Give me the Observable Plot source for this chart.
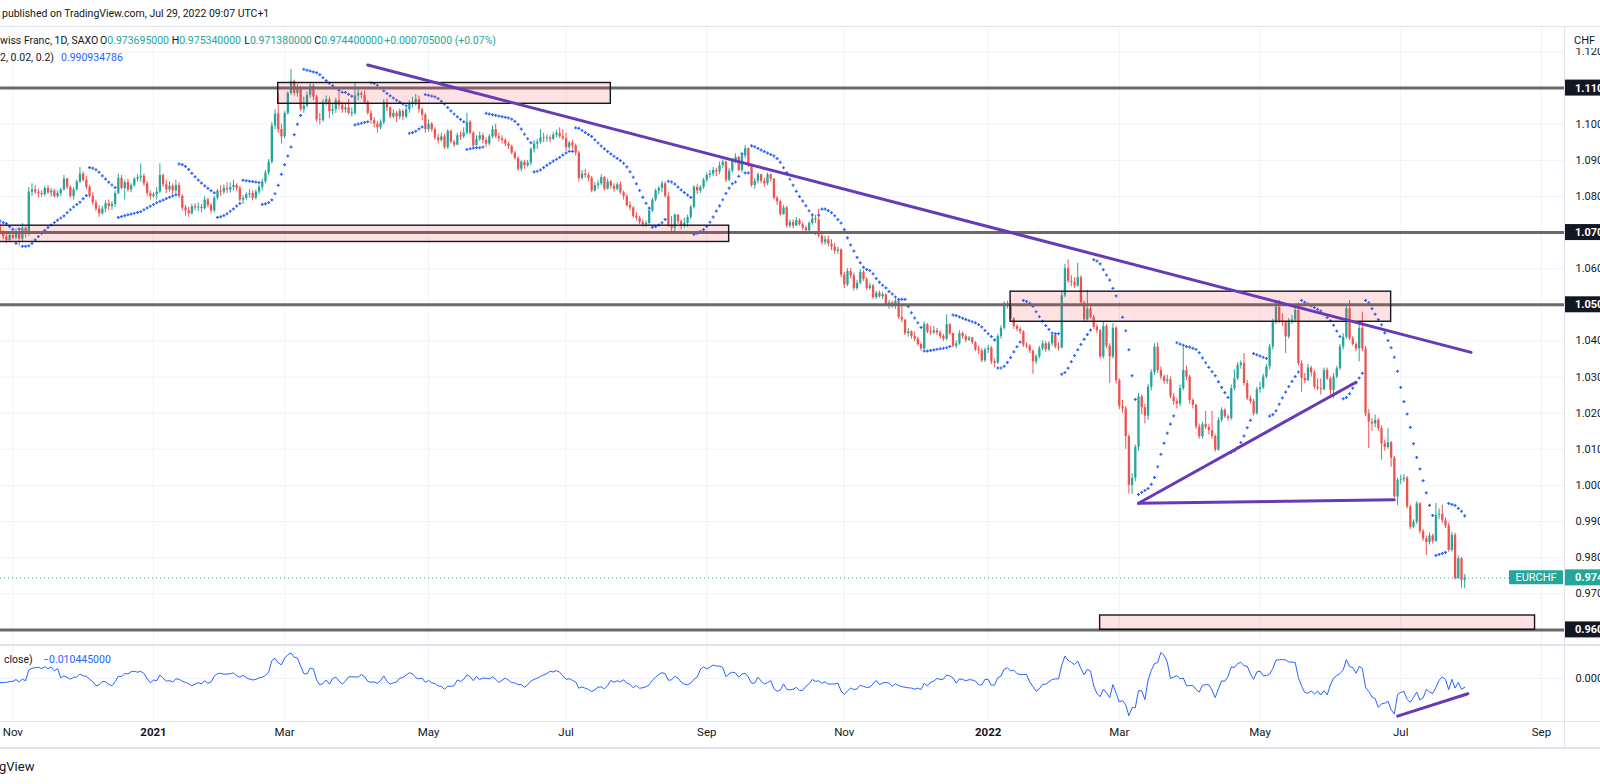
<!DOCTYPE html>
<html><head><meta charset="utf-8">
<script src="https://cdn.jsdelivr.net/npm/d3@7"></script>
<script src="https://cdn.jsdelivr.net/npm/@observablehq/plot@0.6"></script>
<style>
html,body{margin:0;padding:0;background:#fff;}
#root{position:relative;width:1600px;height:784px;overflow:hidden;font-family:Roboto,"Liberation Sans",sans-serif;color:#131722;background:#fff;}
.abs{position:absolute;white-space:nowrap;line-height:1;}
.g{color:#26a69a}.b{color:#2962ff}
</style></head><body><div id="root"></div>
<script>
// ---------- DATA (EUR/CHF daily, SAXO) ----------
const firstDate = "2020-10-13";       // first bar (weekdays follow)
const close = [
// Oct 13-30 2020
1.0745,1.0735,1.0722,1.0728,1.0718,1.0712,1.0722,1.0718,1.0722,1.0715,1.0700,1.0688,1.0678,1.0692,
// Nov 2020
1.0685,1.0700,1.0682,1.0712,1.0695,1.0812,1.0818,1.0812,1.0808,1.0805,1.0822,1.0810,1.0815,1.0800,1.0808,1.0818,1.0848,1.0825,1.0800,1.0818,1.0840,
// Dec 2020
1.0862,1.0845,1.0825,1.0800,1.0782,1.0765,1.0752,1.0765,1.0780,1.0772,1.0778,1.0808,1.0850,1.0822,1.0838,1.0818,1.0830,1.0848,1.0852,1.0856,1.0835,1.0808,1.0800,
// Jan 2021
1.0805,1.0812,1.0858,1.0832,1.0818,1.0828,1.0815,1.0830,1.0800,1.0768,1.0760,1.0752,1.0772,1.0768,1.0770,1.0766,1.0790,1.0775,1.0760,1.0795,1.0815,
// Feb 2021
1.0812,1.0822,1.0818,1.0825,1.0830,1.0822,1.0790,1.0795,1.0805,1.0808,1.0795,1.0812,1.0825,1.0840,1.0865,1.0895,1.0995,1.1028,1.0985,1.0965,
// Mar 2021
1.1030,1.1085,1.1118,1.1085,1.1100,1.1040,1.1050,1.1080,1.1105,1.1075,1.1012,1.1010,1.1060,1.1068,1.1035,1.1040,1.1065,1.1052,1.1040,1.1045,1.1030,1.1030,1.1078,
// Apr 2021
1.1085,1.1080,1.1060,1.1030,1.1010,1.1000,1.0990,1.1005,1.1060,1.1045,1.1020,1.1030,1.1020,1.1035,1.1020,1.1040,1.1055,1.1060,1.1068,1.1040,1.1025,1.0985,
// May 2021
1.1000,1.0985,1.0962,1.0955,1.0965,1.0935,1.0980,1.0950,1.0942,1.0968,1.0965,1.0975,1.1005,1.0975,1.0940,1.0958,1.0968,1.0955,1.0945,1.0965,1.0985,
// Jun 2021
1.0965,1.0960,1.0955,1.0945,1.0938,1.0920,1.0905,1.0875,1.0895,1.0885,1.0892,1.0930,1.0945,1.0950,1.0962,1.0960,1.0962,1.0958,1.0970,1.0975,1.0965,1.0960,
// Jul 2021
1.0935,1.0948,1.0940,1.0920,1.0850,1.0862,1.0858,1.0850,1.0815,1.0830,1.0835,1.0852,1.0820,1.0840,1.0828,1.0820,1.0832,1.0810,1.0800,1.0775,1.0768,1.0745,
// Aug 2021
1.0740,1.0728,1.0722,1.0725,1.0760,1.0790,1.0815,1.0822,1.0835,1.0800,1.0720,1.0712,1.0748,1.0730,1.0718,1.0725,1.0742,1.0770,1.0825,1.0815,1.0825,1.0845,
// Sep 2021
1.0858,1.0862,1.0872,1.0868,1.0885,1.0895,1.0845,1.0870,1.0898,1.0908,1.0872,1.0912,1.0932,1.0885,1.0830,1.0842,1.0860,1.0842,1.0835,1.0860,1.0848,1.0795,
// Oct 2021
1.0785,1.0750,1.0768,1.0718,1.0728,1.0718,1.0733,1.0722,1.0712,1.0705,1.0725,1.0738,1.0735,1.0690,1.0672,1.0680,1.0668,1.0660,1.0648,1.0652,1.0582,
// Nov 2021
1.0555,1.0592,1.0580,1.0545,1.0560,1.0590,1.0570,1.0545,1.0552,1.0520,1.0532,1.0522,1.0528,1.0500,1.0505,1.0500,1.0510,1.0465,1.0458,1.0420,1.0425,1.0412,
// Dec 2021
1.0405,1.0390,1.0378,1.0445,1.0425,1.0422,1.0428,1.0422,1.0412,1.0405,1.0445,1.0420,1.0385,1.0392,1.0420,1.0412,1.0402,1.0408,1.0395,1.0375,1.0372,1.0345,1.0375,
// Jan 2022
1.0380,1.0342,1.0338,1.0412,1.0435,1.0502,1.0498,1.0460,1.0440,1.0432,1.0425,1.0388,1.0385,1.0372,1.0342,1.0356,1.0378,1.0392,1.0375,1.0392,1.0415,
// Feb 2022
1.0383,1.0380,1.0525,1.0600,1.0565,1.0562,1.0552,1.0575,1.0505,1.0458,1.0488,1.0465,1.0438,1.0428,1.0356,1.0440,1.0385,1.0356,1.0435,1.0290,
// Mar 2022
1.0218,1.0212,1.0135,1.0000,1.0020,1.0105,1.0245,1.0215,1.0192,1.0272,1.0312,1.0383,1.0318,1.0300,1.0288,1.0292,1.0245,1.0232,1.0225,1.0268,1.0318,1.0300,1.0235,
// Apr 2022
1.0222,1.0162,1.0135,1.0168,1.0160,1.0152,1.0135,1.0098,1.0180,1.0208,1.0190,1.0185,1.0268,1.0295,1.0332,1.0338,1.0282,1.0240,1.0232,1.0198,1.0265,
// May 2022
1.0270,1.0300,1.0328,1.0383,1.0452,1.0493,1.0455,1.0450,1.0411,1.0455,1.0458,1.0484,1.0337,1.0296,1.0290,1.0325,1.0312,1.0272,1.0268,1.0265,1.0318,1.0295,
// Jun 2022
1.0263,1.0300,1.0323,1.0383,1.0410,1.0489,1.0406,1.0390,1.0378,1.0434,1.0378,1.0198,1.0175,1.0170,1.0180,1.0157,1.0115,1.0105,1.0118,1.0075,0.9968,1.0014,
// Jul 2022
1.0016,1.0020,0.9940,0.9884,0.9898,0.9949,0.9872,0.9852,0.9842,0.9860,0.9845,0.9917,0.9920,0.9902,0.9888,0.9820,0.9862,0.9742,0.9797,0.973695,0.9744
];
const high = [
1.0760,1.0752,1.0740,1.0738,1.0732,1.0725,1.0730,1.0728,1.0732,1.0726,1.0725,1.0705,1.0695,1.0700,
1.0702,1.0710,1.0710,1.0725,1.0715,1.0825,1.0835,1.0830,1.0820,1.0815,1.0828,1.0830,1.0822,1.0820,1.0815,1.0822,1.0858,1.0850,1.0830,1.0825,1.0845,
1.0880,1.0868,1.0855,1.0830,1.0810,1.0790,1.0775,1.0772,1.0788,1.0790,1.0785,1.0815,1.0862,1.0858,1.0845,1.0848,1.0835,1.0852,1.0860,1.0890,1.0862,1.0842,1.0815,
1.0810,1.0825,1.0890,1.0862,1.0845,1.0840,1.0835,1.0845,1.0838,1.0805,1.0775,1.0770,1.0778,1.0780,1.0782,1.0778,1.0800,1.0795,1.0780,1.0800,1.0820,
1.0830,1.0832,1.0838,1.0838,1.0845,1.0835,1.0828,1.0802,1.0810,1.0818,1.0815,1.0818,1.0832,1.0848,1.0872,1.0902,1.1005,1.1040,1.1085,1.1000,
1.1035,1.1090,1.1152,1.1122,1.1110,1.1105,1.1075,1.1090,1.1112,1.1110,1.1080,1.1030,1.1068,1.1078,1.1075,1.1055,1.1072,1.1088,1.1060,1.1058,1.1068,1.1045,1.1115,
1.1100,1.1090,1.1092,1.1065,1.1038,1.1018,1.1008,1.1012,1.1068,1.1070,1.1048,1.1040,1.1035,1.1042,1.1040,1.1045,1.1065,1.1075,1.1082,1.1078,1.1045,1.1030,
1.1012,1.1005,1.0990,1.0972,1.0975,1.0972,1.0985,1.0985,1.0955,1.0975,1.0978,1.0990,1.1030,1.1010,1.0980,1.0968,1.0978,1.0975,1.0962,1.0972,1.0995,
1.1000,1.0975,1.0968,1.0960,1.0950,1.0942,1.0925,1.0910,1.0900,1.0900,1.0900,1.0935,1.0955,1.0958,1.0985,1.0975,1.0970,1.0968,1.0978,1.0982,1.0990,1.0985,
1.0975,1.0952,1.0955,1.0945,1.0925,1.0872,1.0875,1.0865,1.0855,1.0838,1.0845,1.0860,1.0855,1.0848,1.0845,1.0835,1.0838,1.0840,1.0815,1.0805,1.0785,1.0772,
1.0755,1.0745,1.0735,1.0732,1.0765,1.0795,1.0820,1.0828,1.0842,1.0840,1.0810,1.0745,1.0752,1.0750,1.0735,1.0740,1.0748,1.0775,1.0830,1.0832,1.0830,1.0850,
1.0865,1.0872,1.0880,1.0878,1.0895,1.0900,1.0898,1.0878,1.0905,1.0918,1.0912,1.0918,1.0940,1.0935,1.0888,1.0850,1.0865,1.0862,1.0850,1.0865,1.0862,1.0850,
1.0800,1.0790,1.0775,1.0772,1.0735,1.0735,1.0742,1.0738,1.0728,1.0718,1.0730,1.0745,1.0748,1.0765,1.0700,1.0690,1.0690,1.0680,1.0670,1.0660,1.0655,
1.0590,1.0600,1.0600,1.0588,1.0568,1.0598,1.0595,1.0575,1.0560,1.0556,1.0538,1.0538,1.0535,1.0530,1.0512,1.0510,1.0515,1.0515,1.0495,1.0458,1.0435,1.0428,
1.0425,1.0410,1.0395,1.0452,1.0448,1.0440,1.0440,1.0435,1.0428,1.0418,1.0472,1.0448,1.0422,1.0400,1.0428,1.0425,1.0418,1.0412,1.0410,1.0398,1.0385,1.0378,1.0380,
1.0388,1.0385,1.0350,1.0418,1.0442,1.0508,1.0510,1.0512,1.0465,1.0445,1.0438,1.0428,1.0395,1.0390,1.0375,1.0362,1.0385,1.0400,1.0398,1.0398,1.0420,
1.0420,1.0395,1.0535,1.0612,1.0625,1.0580,1.0575,1.0615,1.0580,1.0510,1.0540,1.0495,1.0470,1.0445,1.0432,1.0452,1.0445,1.0392,1.0448,1.0440,
1.0295,1.0235,1.0218,1.0140,1.0032,1.0112,1.0255,1.0250,1.0225,1.0280,1.0320,1.0392,1.0395,1.0328,1.0305,1.0305,1.0300,1.0255,1.0240,1.0278,1.0383,1.0330,1.0305,
1.0240,1.0225,1.0170,1.0175,1.0205,1.0168,1.0205,1.0140,1.0188,1.0215,1.0212,1.0195,1.0278,1.0320,1.0340,1.0345,1.0365,1.0290,1.0248,1.0238,1.0272,
1.0285,1.0308,1.0335,1.0390,1.0460,1.0512,1.0512,1.0475,1.0455,1.0462,1.0470,1.0492,1.0505,1.0345,1.0310,1.0335,1.0330,1.0318,1.0295,1.0295,1.0325,1.0325,
1.0300,1.0310,1.0330,1.0390,1.0420,1.0495,1.0512,1.0412,1.0395,1.0445,1.0480,1.0385,1.0210,1.0185,1.0195,1.0185,1.0165,1.0125,1.0157,1.0122,1.0080,1.0020,
1.0028,1.0030,1.0025,0.9945,0.9905,0.9955,0.9952,0.9878,0.9860,0.9868,0.9865,0.9950,0.9935,0.9945,0.9910,0.9895,0.9870,0.9868,0.9805,0.9800,0.97534
];
const low = [
1.0732,1.0725,1.0712,1.0715,1.0708,1.0700,1.0705,1.0708,1.0710,1.0702,1.0695,1.0680,1.0670,1.0672,
1.0680,1.0680,1.0662,1.0675,1.0685,1.0690,1.0800,1.0805,1.0795,1.0798,1.0800,1.0805,1.0798,1.0795,1.0795,1.0800,1.0815,1.0818,1.0795,1.0790,1.0815,
1.0835,1.0840,1.0818,1.0795,1.0775,1.0758,1.0742,1.0748,1.0755,1.0760,1.0762,1.0770,1.0805,1.0818,1.0790,1.0812,1.0810,1.0825,1.0840,1.0840,1.0828,1.0800,1.0790,
1.0795,1.0790,1.0808,1.0825,1.0808,1.0812,1.0805,1.0808,1.0795,1.0760,1.0745,1.0742,1.0748,1.0760,1.0758,1.0755,1.0762,1.0768,1.0752,1.0755,1.0790,
1.0800,1.0805,1.0808,1.0810,1.0815,1.0815,1.0785,1.0778,1.0788,1.0795,1.0788,1.0790,1.0805,1.0815,1.0835,1.0858,1.0890,1.0985,1.0975,1.0945,
1.0960,1.1025,1.1080,1.1078,1.1075,1.1035,1.1030,1.1045,1.1072,1.1065,1.1005,1.0998,1.1005,1.1050,1.1015,1.1025,1.1030,1.1040,1.1030,1.1030,1.1025,1.1020,1.1025,
1.1065,1.1070,1.1055,1.1025,1.1000,1.0990,1.0975,1.0985,1.0998,1.1035,1.1015,1.1015,1.1005,1.1012,1.1010,1.1015,1.1030,1.1045,1.1050,1.1030,1.1010,1.0975,
1.0978,1.0978,1.0955,1.0945,1.0950,1.0930,1.0930,1.0945,1.0935,1.0940,1.0955,1.0960,1.0970,1.0970,1.0935,1.0940,1.0952,1.0945,1.0935,1.0940,1.0960,
1.0960,1.0950,1.0945,1.0938,1.0930,1.0915,1.0900,1.0870,1.0868,1.0875,1.0880,1.0885,1.0920,1.0930,1.0945,1.0948,1.0950,1.0948,1.0955,1.0962,1.0960,1.0955,
1.0925,1.0930,1.0930,1.0912,1.0840,1.0845,1.0850,1.0840,1.0810,1.0812,1.0820,1.0830,1.0815,1.0818,1.0820,1.0812,1.0815,1.0805,1.0790,1.0770,1.0760,1.0740,
1.0732,1.0722,1.0715,1.0715,1.0720,1.0755,1.0785,1.0805,1.0810,1.0795,1.0715,1.0698,1.0695,1.0722,1.0708,1.0712,1.0715,1.0735,1.0765,1.0805,1.0808,1.0820,
1.0838,1.0850,1.0855,1.0855,1.0860,1.0878,1.0838,1.0840,1.0865,1.0890,1.0868,1.0865,1.0905,1.0880,1.0825,1.0820,1.0835,1.0835,1.0825,1.0830,1.0840,1.0790,
1.0775,1.0745,1.0748,1.0712,1.0712,1.0710,1.0722,1.0718,1.0705,1.0698,1.0702,1.0720,1.0725,1.0685,1.0665,1.0665,1.0660,1.0650,1.0640,1.0640,1.0575,
1.0545,1.0550,1.0572,1.0538,1.0540,1.0555,1.0565,1.0540,1.0540,1.0515,1.0515,1.0518,1.0515,1.0495,1.0488,1.0490,1.0488,1.0460,1.0450,1.0415,1.0410,1.0405,
1.0398,1.0385,1.0372,1.0375,1.0420,1.0415,1.0418,1.0415,1.0405,1.0398,1.0400,1.0415,1.0380,1.0378,1.0388,1.0405,1.0395,1.0398,1.0390,1.0370,1.0362,1.0340,1.0340,
1.0365,1.0335,1.0325,1.0335,1.0405,1.0430,1.0488,1.0455,1.0432,1.0425,1.0418,1.0382,1.0378,1.0365,1.0308,1.0335,1.0350,1.0372,1.0368,1.0370,1.0385,
1.0378,1.0372,1.0378,1.0520,1.0560,1.0550,1.0545,1.0548,1.0500,1.0452,1.0455,1.0460,1.0432,1.0420,1.0350,1.0350,1.0378,1.0282,1.0350,1.0280,
1.0210,1.0200,1.0100,0.9976,0.9975,1.0010,1.0095,1.0195,1.0170,1.0180,1.0262,1.0305,1.0310,1.0292,1.0280,1.0280,1.0240,1.0222,1.0212,1.0218,1.0262,1.0290,1.0225,
1.0212,1.0155,1.0128,1.0128,1.0155,1.0140,1.0128,1.0092,1.0095,1.0175,1.0185,1.0178,1.0180,1.0262,1.0290,1.0322,1.0275,1.0235,1.0225,1.0192,1.0195,
1.0255,1.0265,1.0295,1.0320,1.0375,1.0445,1.0448,1.0440,1.0365,1.0405,1.0445,1.0450,1.0330,1.0258,1.0282,1.0288,1.0300,1.0265,1.0262,1.0250,1.0262,1.0290,
1.0245,1.0240,1.0295,1.0318,1.0375,1.0405,1.0400,1.0385,1.0370,1.0342,1.0370,1.0190,1.0102,1.0150,1.0160,1.0150,1.0070,1.0095,1.0100,1.0050,0.9965,0.9944,
1.0002,1.0008,0.9935,0.9878,0.9880,0.9892,0.9865,0.9845,0.9806,0.9835,0.9838,0.9842,0.9905,0.9895,0.9880,0.9815,0.9815,0.9738,0.9740,0.9715,0.97138
];
// horizontal support / resistance levels
const levels = [1.110, 1.070, 1.050, 0.960];
// price-axis tick labels
const priceTicks = [0.970,0.980,0.990,1.000,1.010,1.020,1.030,1.040,1.050,1.060,1.070,1.080,1.090,1.100,1.110,1.120];
// time-axis ticks
const tickMonths = ["2020-11","2021-01","2021-03","2021-05","2021-07","2021-09","2021-11","2022-01","2022-03","2022-05","2022-07","2022-09"];
const tickLabels = ["Nov","2021","Mar","May","Jul","Sep","Nov","2022","Mar","May","Jul","Sep"];
// drawn zones (rectangles)
const zones = [
 {d1:"2021-02-25", d2:"2021-07-21", top:1.11141, bottom:1.10565},
 {d1:"2020-10-13", d2:"2021-09-10", top:1.07190, bottom:1.06739},
 {d1:"2022-01-12", d2:"2022-06-28", top:1.05363, bottom:1.04530},
 {d1:"2022-02-21", d2:"2022-08-30", top:0.96398, bottom:0.96002}
];
// drawn trend lines
const trends = [
 {d1:"2021-04-06", p1:1.11639, d2:"2022-08-02", p2:1.03682},
 {d1:"2022-03-09", p1:0.99507, d2:"2022-06-13", p2:1.02857},
 {d1:"2022-03-09", p1:0.99507, d2:"2022-06-29", p2:0.99601}
];
// divergence line in momentum pane
const momTrend = [{d1:"2022-06-30", v1:-0.0433, d2:"2022-08-01", v2:-0.0175}];

// ---------- BUILD ----------
const dates = [];
for (let t = Date.UTC(2020,9,13); t <= Date.UTC(2022,8,9); t += 864e5) {
  const d = new Date(t), wd = d.getUTCDay();
  if (wd === 0 || wd === 6) continue;
  dates.push(d.toISOString().slice(0,10));
}
const idx = new Map(dates.map((d,k)=>[d,k]));
const GREEN = "#26a69a", RED = "#ef5350";
const bars = close.map((c,k) => {
  const o = k === 0 ? c : close[k-1];
  const h = Math.max(high[k], o, c), l = Math.min(low[k], o, c);
  let bt = Math.max(o,c), bb = Math.min(o,c);
  if (bt - bb < 0.00004) { bt += 0.00014; bb -= 0.00014; }
  return {x:k, date:dates[k], o, h, l, c, bt, bb, col: c >= o ? GREEN : RED};
});
// Parabolic SAR (0.02, 0.02, 0.2)
const sar = [];
{
  let up = false, af = 0.02, ep = bars[0].l, s = bars[0].h;
  for (let k = 1; k < bars.length; k++) {
    s = s + af * (ep - s);
    if (up) {
      s = Math.min(s, bars[k-1].l, k > 1 ? bars[k-2].l : bars[k-1].l);
      if (bars[k].l < s) { up = false; s = ep; ep = bars[k].l; af = 0.02; }
      else if (bars[k].h > ep) { ep = bars[k].h; af = Math.min(af + 0.02, 0.2); }
    } else {
      s = Math.max(s, bars[k-1].h, k > 1 ? bars[k-2].h : bars[k-1].h);
      if (bars[k].h > s) { up = true; s = ep; ep = bars[k].h; af = 0.02; }
      else if (bars[k].l < ep) { ep = bars[k].l; af = Math.min(af + 0.02, 0.2); }
    }
    sar.push({x:k, v:s});
  }
}
// Momentum (10, close)
const mom = close.map((c,k)=> k >= 10 ? {x:k, v:c - close[k-10]} : null).filter(Boolean);
const ticks = tickMonths.map((m,j)=>({x: dates.findIndex(d=>d.startsWith(m)), label: tickLabels[j], year: /^\d{4}$/.test(tickLabels[j])}));
const axisTicks = priceTicks.filter(t => !levels.some(L => Math.abs(L - t) < 1e-9));

const W = 1600, AX = 36, PX0 = 12.3, STEP = 3.198;
const ref = idx.get("2020-11-02");
const xDomain = [ref - PX0/STEP, ref + (W - AX - PX0)/STEP];
const lastClose = close[close.length-1];
const FONT = "Roboto, 'Liberation Sans', sans-serif";

const root = document.getElementById("root");
function div(css, html){ const e=document.createElement("div"); e.className="abs"; e.style.cssText=css; e.innerHTML=html; root.appendChild(e); return e; }

// main pane
const main = Plot.plot({
  width: W, height: 619, marginLeft: 0, marginRight: AX, marginTop: 0, marginBottom: 0,
  style: {fontFamily: FONT, fontSize: "11px", color: "#131722", background: "transparent"},
  x: {type: "linear", domain: xDomain, axis: null},
  y: {domain: [0.955676, 1.127049]},
  marks: [
    Plot.gridY(priceTicks, {stroke: "#f0f3fa", strokeOpacity: 1}),
    Plot.gridX(ticks.map(t=>t.x), {stroke: "#f0f3fa", strokeOpacity: 1}),
    Plot.ruleX(bars, {x: "x", y1: "l", y2: "h", stroke: "col", strokeWidth: 1, clip: true}),
    Plot.ruleX(bars, {x: "x", y1: "bb", y2: "bt", stroke: "col", strokeWidth: 2.3, clip: true}),
    Plot.dot(sar, {x: "x", y: "v", symbol: "plus", r: 1.05, stroke: "#2962ff", strokeWidth: 1.2, clip: true}),
    Plot.ruleY([lastClose], {stroke: GREEN, strokeWidth: 1, strokeDasharray: "1,3"}),
    Plot.ruleY(levels, {stroke: "#6a6a6a", strokeWidth: 3}),
    Plot.rect(zones, {x1: d=>idx.get(d.d1), x2: d=>idx.get(d.d2), y1: "bottom", y2: "top",
      fill: "#f23645", fillOpacity: 0.15, stroke: "#131722", strokeWidth: 1.4, clip: true}),
    Plot.link(trends, {x1: d=>idx.get(d.d1), y1: "p1", x2: d=>idx.get(d.d2), y2: "p2",
      stroke: "#673ab7", strokeWidth: 3, strokeLinecap: "round", clip: true}),
    Plot.axisY({anchor: "right", ticks: axisTicks, tickSize: 0, tickPadding: 11, tickFormat: d3.format(".3f"), fontSize: 11})
  ]
});
main.style.position = "absolute"; main.style.left = "0px"; main.style.top = "26px";
root.appendChild(main);
{
  const ys = main.scale("y");
  const svg = d3.select(main);
  const xr = W - AX;
  const g = svg.append("g").attr("text-anchor", "start").attr("font-family", FONT);
  // CHF header area on the scale
  g.append("rect").attr("x", xr+1).attr("y", 0).attr("width", AX).attr("height", 22).attr("fill", "#fff");
  g.append("text").attr("x", xr+10).attr("y", 18).attr("font-size", 11).attr("fill", "#131722").text("CHF");
  for (const L of levels) {
    const yy = ys.apply(L);
    g.append("rect").attr("x", xr+1).attr("y", yy-8).attr("width", AX).attr("height", 16).attr("fill", "#131722");
    g.append("text").attr("x", xr+11).attr("y", yy+4).attr("font-size", 11).attr("font-weight", "bold").attr("fill", "#fff").text(d3.format(".3f")(L));
  }
  const yc = ys.apply(lastClose);
  g.append("rect").attr("x", xr-55).attr("y", yc-7).attr("width", 54).attr("height", 14).attr("rx", 1).attr("fill", GREEN);
  g.append("text").attr("x", xr-28).attr("y", yc+4).attr("text-anchor", "middle").attr("font-size", 11).attr("fill", "#fff").text("EURCHF");
  g.append("rect").attr("x", xr+1).attr("y", yc-8).attr("width", AX).attr("height", 16).attr("fill", GREEN);
  g.append("text").attr("x", xr+11).attr("y", yc+4).attr("font-size", 11).attr("font-weight", "bold").attr("fill", "#fff").text(d3.format(".3f")(lastClose));
}

// momentum pane + time axis
const lower = Plot.plot({
  width: W, height: 103, marginLeft: 0, marginRight: AX, marginTop: 0, marginBottom: 27,
  style: {fontFamily: FONT, fontSize: "11px", color: "#131722", background: "transparent"},
  x: {type: "linear", domain: xDomain, axis: null},
  y: {domain: [-0.04943, 0.03793]},
  marks: [
    Plot.gridY([0], {stroke: "#f0f3fa", strokeOpacity: 1}),
    Plot.gridX(ticks.map(t=>t.x), {stroke: "#f0f3fa", strokeOpacity: 1}),
    Plot.line(mom, {x: "x", y: "v", stroke: "#2962ff", strokeWidth: 1, clip: true}),
    Plot.link(momTrend, {x1: d=>idx.get(d.d1), y1: "v1", x2: d=>idx.get(d.d2), y2: "v2", stroke: "#673ab7", strokeWidth: 3, strokeLinecap: "round"}),
    Plot.text(ticks.filter(t=>!t.year), {x: "x", text: "label", frameAnchor: "bottom", dy: 14, fontSize: 11.5, fill: "#131722"}),
    Plot.text(ticks.filter(t=>t.year), {x: "x", text: "label", frameAnchor: "bottom", dy: 14, fontSize: 11.5, fontWeight: "bold", fill: "#131722"}),
    Plot.axisY({anchor: "right", ticks: [0], tickSize: 0, tickPadding: 11, tickFormat: d3.format(".3f"), fontSize: 11})
  ]
});
lower.style.position = "absolute"; lower.style.left = "0px"; lower.style.top = "645px";
root.appendChild(lower);

// frame lines
div("left:0;top:26px;width:1600px;height:1px;background:#e0e3eb;", "");
div("left:0;top:644px;width:1600px;height:2px;background:#e0e3eb;", "");
div("left:0;top:721px;width:1600px;height:1px;background:#e0e3eb;", "");
div("left:0;top:747px;width:1600px;height:2px;background:#e0e3eb;", "");
div("left:1564px;top:26px;width:1px;height:722px;background:#e0e3eb;", "");

// texts
div("left:2px;top:9px;font-size:10.5px;", "published on TradingView.com, Jul 29, 2022 09:07 UTC+1");
const L2 = "top:36px;font-size:10.5px;";
div("left:0px;"+L2, "wiss Franc, 1D, SAXO");
div("left:100px;"+L2, "O<span class='g'>0.973695000</span>");
div("left:171.7px;"+L2, "H<span class='g'>0.975340000</span>");
div("left:244.3px;"+L2, "L<span class='g'>0.971380000</span>");
div("left:314.3px;"+L2, "C<span class='g'>0.974400000</span>");
div("left:384.3px;"+L2, "<span class='g'>+0.000705000 (+0.07%)</span>");
div("left:0px;top:53px;font-size:10.5px;", "2, 0.02, 0.2)");
div("left:61px;top:53px;font-size:10.5px;", "<span class='b'>0.990934786</span>");
div("left:4px;top:655px;font-size:10.5px;", "close)");
div("left:43px;top:655px;font-size:10.5px;", "<span class='b'>\u22120.010445000</span>");
div("left:-1px;top:760px;font-size:13px;", "gView");
</script></body></html>
